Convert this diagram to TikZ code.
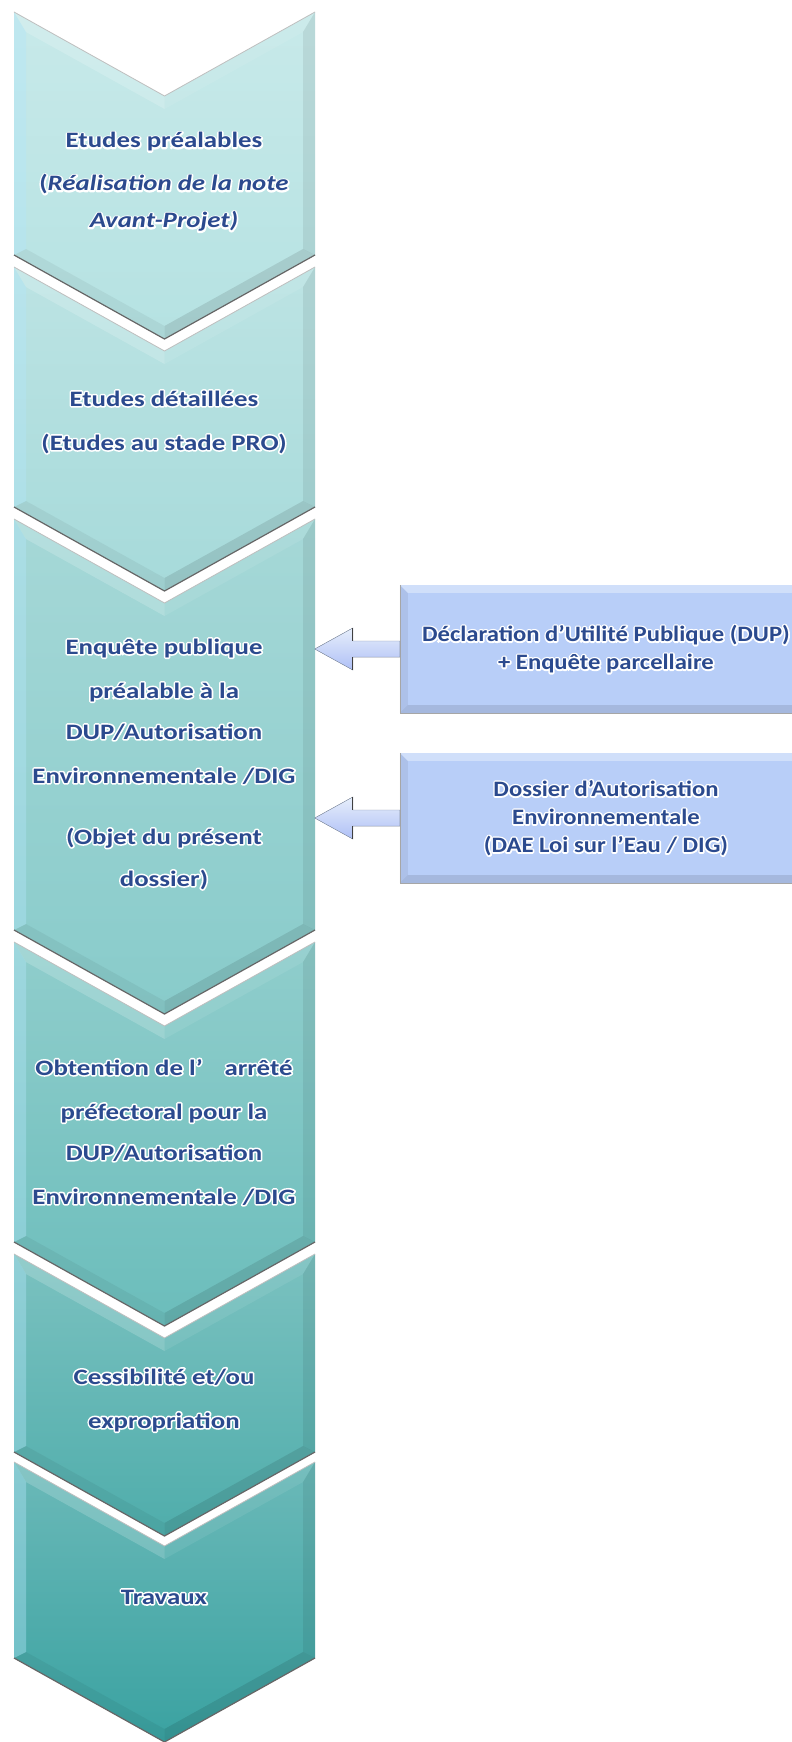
\documentclass[tikz,border=0pt]{standalone}
\usepackage{fontspec}
\newfontfamily\cfont[FakeStretch=1.22]{Carlito}
\newfontfamily\bfont[FakeStretch=1.12]{Carlito}
\usetikzlibrary{calc}
\definecolor{txt}{HTML}{2B4A8E}
\definecolor{c1}{HTML}{B5E2E2}
\definecolor{c2}{HTML}{A6DADA}
\definecolor{c3}{HTML}{88CBCA}
\definecolor{c4}{HTML}{6BBDBB}
\definecolor{c5}{HTML}{4FADAB}
\definecolor{c6}{HTML}{3AA2A1}
\definecolor{boxc}{HTML}{B8CEF8}
\definecolor{arrc}{HTML}{C2D5F5}
\newcommand\gl[1]{\leavevmode\rlap{\special{pdf:literal direct 1 1 1 RG 1 J 1 j 3.2 w 2 Tr}#1\special{pdf:literal direct 0 Tr}}#1}
% chevron: ytop, ybot, colour
\newcommand\chev[3]{%
  \shade[top color=#3!75!white, bottom color=#3] (14,#1) -- (164.5,#1+84) -- (315,#1) -- (315,#2) -- (164.5,#2+84) -- (14,#2) -- cycle;
  \fill[cyan!30!white, opacity=0.4] (14,#1) -- (26,#1+20) -- (26,#2-6) -- (14,#2) -- cycle;
  \fill[black, opacity=0.07] (315,#1) -- (303,#1+20) -- (303,#2-6) -- (315,#2) -- cycle;
  \fill[white, opacity=0.18] (14,#1) -- (164.5,#1+84) -- (164.5,#1+97) -- (26,#1+20) -- cycle;
  \fill[white, opacity=0.08] (315,#1) -- (164.5,#1+84) -- (164.5,#1+97) -- (303,#1+20) -- cycle;
  \fill[black, opacity=0.05] (14,#2) -- (164.5,#2+84) -- (164.5,#2+71) -- (26,#2-6) -- cycle;
  \fill[black, opacity=0.10] (315,#2) -- (164.5,#2+84) -- (164.5,#2+71) -- (303,#2-6) -- cycle;
  \draw[black!60, line width=1.2] (14,#2) -- (164.5,#2+84) -- (315,#2);
  \draw[black!25, line width=0.8] (14,#1) -- (164.5,#1+84) -- (315,#1);
}
\tikzset{
  chevtext/.style={align=center, text=txt, font=\cfont\bfseries\fontsize{22}{44}\selectfont},
  sidebox/.style={minimum width=412pt, minimum height=128pt, inner sep=0pt, align=center, text=txt,
     fill=boxc, font=\bfont\bfseries\fontsize{22}{28}\selectfont},
  arrowbody/.style={top color=white!60!arrc, bottom color=arrc!90!blue, draw=arrc!70!black, line width=0.4},
  backedge/.style={black!75, line width=1.3}
}
\begin{document}
\begin{tikzpicture}[x=1pt,y=-1pt]
\useasboundingbox (0,0) rectangle (792,1742);
\fill[white] (0,0) rectangle (792,1742);
\chev{12}{255}{c1}
\chev{267}{507}{c2}
\chev{519}{930}{c3}
\chev{942}{1242}{c4}
\chev{1254}{1452}{c5}
\chev{1462}{1658}{c6}

\node[chevtext] (t1) at (164,182) {\gl{Etudes préalables}\\[-1pt]\gl{(\textit{Réalisation de la note}}\\[-7pt]\gl{\textit{Avant-Projet)}}};
\node[chevtext] (t2) at (164,422) {\gl{Etudes détaillées}\\\gl{(Etudes au stade PRO)}};
\node[chevtext] (t3) at (164,764) {\gl{Enquête publique}\\\gl{préalable à la}\\[-3pt]\gl{DUP/Autorisation}\\\gl{Environnementale /DIG}\\[17pt]\gl{(Objet du présent}\\[-2pt]\gl{dossier)}};
\node[chevtext] (t4) at (164,1132) {\gl{Obtention de l’\quad arrêté}\\\gl{préfectoral pour la}\\[-3pt]\gl{DUP/Autorisation}\\\gl{Environnementale /DIG}};
\node[chevtext] (t5) at (164,1400) {\gl{Cessibilité et/ou}\\\gl{expropriation}};
\node[chevtext] (t6) at (164,1597) {\gl{Travaux}};

\node[sidebox] (dup) at (606,649) {\gl{Déclaration d’Utilité Publique (DUP)}\\\gl{+ Enquête parcellaire}};
\node[sidebox, minimum height=130pt] (dae) at (606,818) {\gl{Dossier d’Autorisation}\\\gl{Environnementale}\\\gl{(DAE Loi sur l’Eau / DIG)}};

\foreach \b in {dup,dae}{
  \fill[white, opacity=0.35] (\b.north west) -- (\b.north east) -- ($(\b.north east)+(-8,8)$) -- ($(\b.north west)+(8,8)$) -- cycle;
  \fill[black, opacity=0.06] (\b.north west) -- ($(\b.north west)+(8,8)$) -- ($(\b.south west)+(8,-8)$) -- (\b.south west) -- cycle;
  \fill[black, opacity=0.10] (\b.south west) -- ($(\b.south west)+(8,-8)$) -- ($(\b.south east)+(-8,-8)$) -- (\b.south east) -- cycle;
  \draw[black!35, line width=0.6] (\b.north west) -- (\b.south west) -- (\b.south east);
  \filldraw[arrowbody] ($(\b.west)+(0,-8)$) -- ++(-47,0) -- ++(0,-13) -- ++(-38,21) -- ++(38,21) -- ++(0,-13) -- ++(47,0) -- cycle;
  \draw[backedge] ($(\b.west)+(-47,-21)$) -- ++(0,13);
  \draw[backedge] ($(\b.west)+(-47,21)$) -- ++(0,-13);
}
\end{tikzpicture}
\end{document}
